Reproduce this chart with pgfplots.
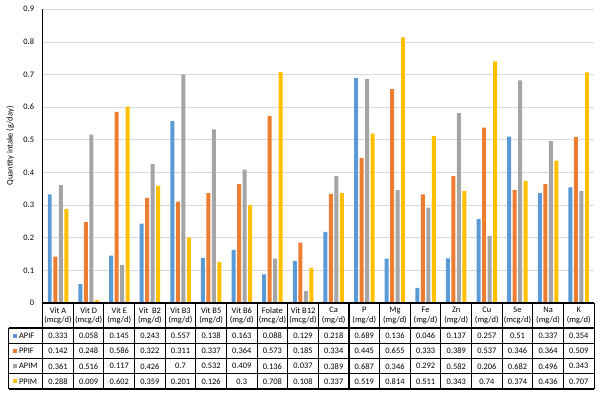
\documentclass[border=0pt]{standalone}
\usepackage{pgfplots}
\usepackage{pgfplotstable}
\pgfplotsset{compat=1.18}
\usepackage{fontspec}
\setmainfont{Carlito}
\definecolor{cA}{HTML}{5B9BD5}
\definecolor{cB}{HTML}{ED7D31}
\definecolor{cC}{HTML}{A5A5A5}
\definecolor{cD}{HTML}{FFC000}
\pgfplotstableread{
idx APIF PPIF APIM PPIM
0 0.333 0.142 0.361 0.288
1 0.058 0.248 0.516 0.009
2 0.145 0.586 0.117 0.602
3 0.243 0.322 0.426 0.359
4 0.557 0.311 0.7 0.201
5 0.138 0.337 0.532 0.126
6 0.163 0.364 0.409 0.3
7 0.088 0.573 0.136 0.708
8 0.129 0.185 0.037 0.108
9 0.218 0.334 0.389 0.337
10 0.689 0.445 0.687 0.519
11 0.136 0.655 0.346 0.814
12 0.046 0.333 0.292 0.511
13 0.137 0.389 0.582 0.343
14 0.257 0.537 0.206 0.74
15 0.51 0.346 0.682 0.374
16 0.337 0.364 0.496 0.436
17 0.354 0.509 0.343 0.707
}\data
\begin{document}
\fontsize{6.3}{7.5}\selectfont
\begin{tikzpicture}
\useasboundingbox (0,0) rectangle (450.75pt,295.5pt);
\begin{axis}[
  at={(32.03pt,68.25pt)}, anchor=south west,
  scale only axis, width=413.5pt, height=220.3pt,
  xmin=-0.5, xmax=17.5, ymin=0, ymax=0.9,
  ytick={0,0.1,0.2,0.3,0.4,0.5,0.6,0.7,0.8,0.9},
  yticklabel style={/pgf/number format/fixed,/pgf/number format/precision=1, inner sep=0pt, xshift=-6.3pt, font=\fontsize{6.3}{7.5}\selectfont},
  /pgf/number format/assume math mode=true,
  major tick length=0pt,
  axis x line=none,
  axis y line*=left,
  axis line style={black, line width=0.8pt, -},
  ymajorgrids, grid style={color=black!15, line width=0.6pt},
  ylabel={Quantity intake (g/day)},
  ylabel style={at={(axis description cs:-0.059,0.535)}, anchor=center, font=\fontsize{6.3}{7.5}\selectfont, rotate=0},
  ybar, bar width=0.13,
  clip=false,
]
\addplot[fill=cA, draw=none, bar shift=-0.27] table[x=idx, y=APIF] {\data};
\addplot[fill=cB, draw=none, bar shift=-0.09] table[x=idx, y=PPIF] {\data};
\addplot[fill=cC, draw=none, bar shift=0.09] table[x=idx, y=APIM] {\data};
\addplot[fill=cD, draw=none, bar shift=0.27] table[x=idx, y=PPIM] {\data};
\end{axis}
\begin{scope}[x=0.75pt, y=-0.75pt, shift={(0,295.5pt)}]
  % borders
  \draw[line width=0.8pt, black] (42.7,303) -- (594,303);
  \foreach \yy in {328,343.3,358.5,373.8,389} \draw[line width=0.8pt] (8.5,\yy) -- (594,\yy);
  \draw[line width=0.8pt] (8.5,328) -- (8.5,389);
  \foreach \i in {0,...,18} {
    \pgfmathsetmacro\lx{42.7+30.63*\i}
    \draw[line width=0.8pt] (\lx,303) -- (\lx,389);
  }
  % headers
  \foreach \i/\n/\u in {0/Vit A/mcg,1/Vit D/mcg,2/Vit E/mg,3/Vit\ \ B2/mg,4/Vit B3/mg,5/Vit B5/mg,6/Vit B6/mg,7/Folate/mcg,8/Vit B12/mcg,9/Ca/mg,10/P/mg,11/Mg/mg,12/Fe/mg,13/Zn/mg,14/Cu/mg,15/Se/mcg,16/Na/mg,17/K/mg} {
    \pgfmathsetmacro\cx{42.7+30.63*(\i+0.5)}
    \node[inner sep=0pt] at (\cx,310.3) {\n};
    \node[inner sep=0pt] at (\cx,319.8) {(\u/d)};
  }
  % row labels
  \foreach \r/\lab/\col in {0/APIF/cA,1/PPIF/cB,2/APIM/cC,3/PPIM/cD} {
    \pgfmathsetmacro\cy{335.7+15.25*\r}
    \fill[\col] (13.3,\cy-2) rectangle (17.3,\cy+2);
    \node[inner sep=0pt, anchor=west] at (18.8,\cy) {\lab};
  }
  % values
  \foreach \i in {0,...,17} {
    \pgfmathsetmacro\cx{42.7+30.63*(\i+0.5)}
    \foreach \r/\c in {0/APIF,1/PPIF,2/APIM,3/PPIM} {
      \pgfmathsetmacro\cy{335.7+15.25*\r}
      \pgfplotstablegetelem{\i}{\c}\of\data
      \node[inner sep=0pt] at (\cx,\cy) {\pgfplotsretval};
    }
  }
\end{scope}
\end{tikzpicture}
\end{document}
